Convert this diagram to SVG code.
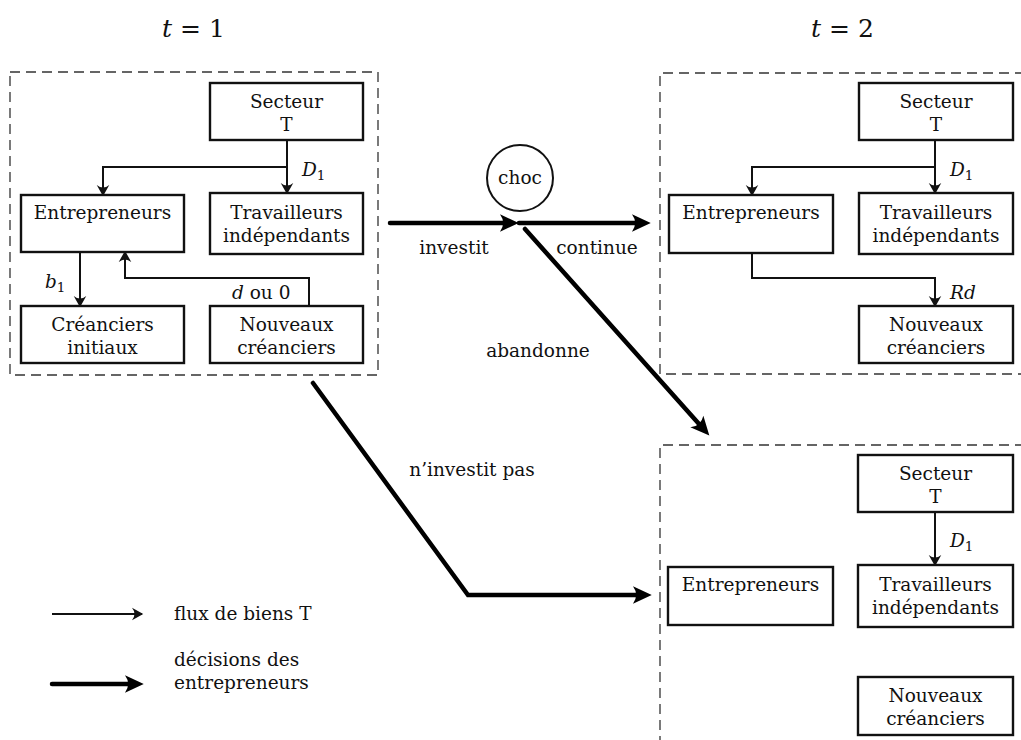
<svg xmlns="http://www.w3.org/2000/svg" width="1021" height="740" viewBox="0 0 1021 740" font-family="'DejaVu Serif', serif">
<style>
text{font-family:'DejaVu Serif',serif;font-size:18.5px;fill:#111}
.c{text-anchor:middle}
.i{font-style:italic}
.box{fill:#fff;stroke:#111;stroke-width:2.4}
.frame{fill:none;stroke:#333;stroke-width:1.3;stroke-dasharray:10 6}
.thin{fill:none;stroke:#111;stroke-width:2;marker-end:url(#ah)}
.thick{fill:none;stroke:#000;stroke-width:4.5;marker-end:url(#ahb);stroke-linecap:round;stroke-linejoin:miter}
</style>
<defs>
<marker id="ah" markerUnits="userSpaceOnUse" markerWidth="20" markerHeight="20" refX="0" refY="0" viewBox="-12 -8 16 16" orient="auto" overflow="visible">
<path d="M1,0 L-8,-5 Q-4,0 -8,5 Z" fill="#111"/>
</marker>
<marker id="ahb" markerUnits="userSpaceOnUse" markerWidth="30" markerHeight="30" refX="0" refY="0" viewBox="-16 -10 24 20" orient="auto" overflow="visible">
<path d="M7,0 L-8,-7 Q-3,0 -8,7 Z" fill="#000"/>
</marker>
</defs>

<g id="titles">
<text x="162" y="37" style="font-size:25px"><tspan class="i">t</tspan> = 1</text>
<text x="811" y="37" style="font-size:25px"><tspan class="i">t</tspan> = 2</text>
</g>

<g id="frames">
<rect class="frame" x="10" y="72" width="368" height="303"/>
<path class="frame" d="M1025,73 H660 V374 H1025"/>
<path class="frame" d="M1025,445 H660 V745"/>
</g>

<g id="connectors">
<path class="thin" d="M287,140 V193"/>
<path class="thin" d="M287,167 H103 V195"/>
<path class="thin" d="M80,252 V306"/>
<path class="thin" d="M309,306 V278 H125 V252"/>
<path class="thin" d="M935,140 V193"/>
<path class="thin" d="M935,167 H752 V195"/>
<path class="thin" d="M752,253 V278 H935 V306"/>
<path class="thin" d="M935,512 V565"/>
<path class="thick" d="M390,223 H510"/>
<path class="thick" d="M519,223 H642"/>
<path class="thick" d="M525,229 L703.5,429"/>
<path class="thick" d="M313,383 L468,595 H643"/>
<path class="thin" d="M52,614 H142"/>
<path class="thick" d="M52,684 H135"/>
</g>

<g id="labels">
<text x="302" y="176" class="i">D<tspan style="font-size:13.5px;font-style:normal" dy="4">1</tspan></text>
<text x="45" y="288" class="i">b<tspan style="font-size:13.5px;font-style:normal" dy="4">1</tspan></text>
<text x="232" y="299"><tspan class="i">d</tspan> ou 0</text>
<text x="950" y="176" class="i">D<tspan style="font-size:13.5px;font-style:normal" dy="4">1</tspan></text>
<text x="950" y="299" class="i">Rd</text>
<text x="950" y="547" class="i">D<tspan style="font-size:13.5px;font-style:normal" dy="4">1</tspan></text>
<text x="454" y="254" class="c">investit</text>
<text x="597" y="254" class="c">continue</text>
<text x="538" y="357" class="c">abandonne</text>
<text x="472" y="476" class="c">n’investit pas</text>
<text x="174" y="620">flux de biens T</text>
<text x="174" y="666">décisions des</text>
<text x="174" y="689">entrepreneurs</text>
</g>

<g id="choc">
<circle cx="520" cy="178" r="33" fill="#fff" stroke="#111" stroke-width="2"/>
<text x="520" y="184" class="c">choc</text>
</g>

<g id="n1-secteur"><rect class="box" x="210" y="83" width="153" height="57"/><text class="c" x="286.5" y="108">Secteur</text><text class="c" x="286.5" y="131">T</text></g>
<g id="n1-entrepreneurs"><rect class="box" x="21" y="195" width="163" height="57"/><text class="c" x="102.5" y="219">Entrepreneurs</text></g>
<g id="n1-travailleurs"><rect class="box" x="210" y="193" width="153" height="61"/><text class="c" x="286.5" y="219">Travailleurs</text><text class="c" x="286.5" y="242">indépendants</text></g>
<g id="n1-creanciers"><rect class="box" x="21" y="306" width="163" height="57"/><text class="c" x="102.5" y="331">Créanciers</text><text class="c" x="102.5" y="354">initiaux</text></g>
<g id="n1-nouveaux"><rect class="box" x="210" y="306" width="153" height="57"/><text class="c" x="286.5" y="331">Nouveaux</text><text class="c" x="286.5" y="354">créanciers</text></g>

<g id="n2-secteur"><rect class="box" x="859" y="83" width="154" height="57"/><text class="c" x="936" y="108">Secteur</text><text class="c" x="936" y="131">T</text></g>
<g id="n2-entrepreneurs"><rect class="box" x="669" y="195" width="164" height="58"/><text class="c" x="751" y="219">Entrepreneurs</text></g>
<g id="n2-travailleurs"><rect class="box" x="859" y="193" width="154" height="61"/><text class="c" x="936" y="219">Travailleurs</text><text class="c" x="936" y="242">indépendants</text></g>
<g id="n2-nouveaux"><rect class="box" x="859" y="306" width="154" height="57"/><text class="c" x="936" y="331">Nouveaux</text><text class="c" x="936" y="354">créanciers</text></g>

<g id="n3-secteur"><rect class="box" x="858" y="455" width="155" height="57"/><text class="c" x="935.5" y="480">Secteur</text><text class="c" x="935.5" y="503">T</text></g>
<g id="n3-entrepreneurs"><rect class="box" x="668" y="567" width="165" height="58"/><text class="c" x="750.5" y="591">Entrepreneurs</text></g>
<g id="n3-travailleurs"><rect class="box" x="858" y="565" width="155" height="62"/><text class="c" x="935.5" y="591">Travailleurs</text><text class="c" x="935.5" y="614">indépendants</text></g>
<g id="n3-nouveaux"><rect class="box" x="858" y="677" width="155" height="58"/><text class="c" x="935.5" y="702">Nouveaux</text><text class="c" x="935.5" y="725">créanciers</text></g>
</svg>
